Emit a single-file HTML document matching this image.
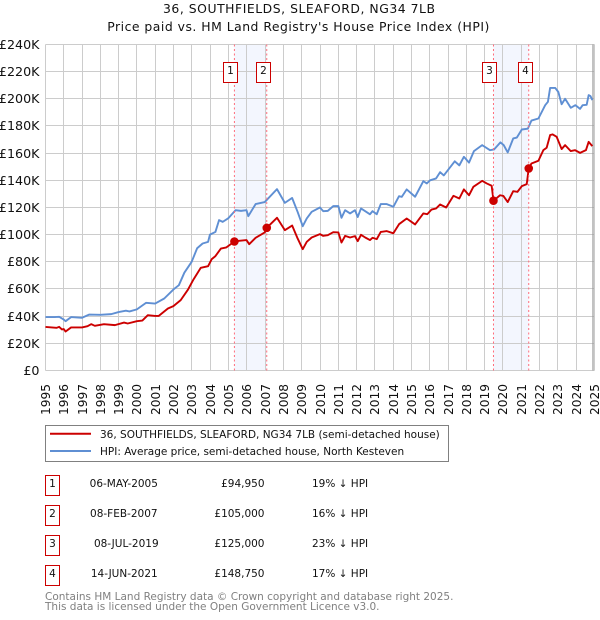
<!DOCTYPE html>
<html>
<head>
<meta charset="utf-8">
<title>36, SOUTHFIELDS, SLEAFORD, NG34 7LB</title>
<style>
html,body{margin:0;padding:0;background:#fff;}
svg{display:block;}
text{font-family:"DejaVu Sans",sans-serif;}
</style>
</head>
<body>
<svg id="chart" width="600" height="620" viewBox="0 0 600 620" xmlns="http://www.w3.org/2000/svg">
  <text x="163" y="13" font-size="12.4" textLength="272" lengthAdjust="spacing" fill="#111">36, SOUTHFIELDS, SLEAFORD, NG34 7LB</text>
  <text x="107.3" y="31" font-size="12.4" textLength="382" lengthAdjust="spacing" fill="#111">Price paid vs. HM Land Registry's House Price Index (HPI)</text>
  <g id="shade-layer"></g>
  <g id="grid-layer"></g>
  <g id="line-layer"></g>
  <g id="marker-layer"></g>
  <g id="label-layer"></g>

  <g>
    <rect x="45.5" y="425.5" width="403" height="36" fill="#fff" stroke="#808080" stroke-width="1"/>
    <line x1="50" x2="91" y1="433.8" y2="433.8" stroke="#cc0000" stroke-width="2"/>
    <text x="100" y="438" font-size="10.5" fill="#111">36, SOUTHFIELDS, SLEAFORD, NG34 7LB (semi-detached house)</text>
    <line x1="50" x2="91" y1="451" y2="451" stroke="#5f8fd3" stroke-width="2"/>
    <text x="100" y="455" font-size="10.5" fill="#111">HPI: Average price, semi-detached house, North Kesteven</text>
  </g>

  <g font-size="10.5" fill="#111">
    <g>
      <rect x="45.5" y="475.5" width="14" height="20" fill="#fff" stroke="#cc0000"/>
      <text x="52.5" y="487" text-anchor="middle">1</text>
      <text x="123.8" y="487" text-anchor="middle">06-MAY-2005</text>
      <text x="264.5" y="487" text-anchor="end">£94,950</text>
      <text x="312" y="487">19% ↓ HPI</text>
    </g>
    <g>
      <rect x="45.5" y="505.5" width="14" height="20" fill="#fff" stroke="#cc0000"/>
      <text x="52.5" y="517" text-anchor="middle">2</text>
      <text x="123.8" y="517" text-anchor="middle">08-FEB-2007</text>
      <text x="264.5" y="517" text-anchor="end">£105,000</text>
      <text x="312" y="517">16% ↓ HPI</text>
    </g>
    <g>
      <rect x="45.5" y="535.5" width="14" height="20" fill="#fff" stroke="#cc0000"/>
      <text x="52.5" y="547" text-anchor="middle">3</text>
      <text x="126.3" y="547" text-anchor="middle">08-JUL-2019</text>
      <text x="264.5" y="547" text-anchor="end">£125,000</text>
      <text x="312" y="547">23% ↓ HPI</text>
    </g>
    <g>
      <rect x="45.5" y="565.5" width="14" height="20" fill="#fff" stroke="#cc0000"/>
      <text x="52.5" y="577" text-anchor="middle">4</text>
      <text x="124.3" y="577" text-anchor="middle">14-JUN-2021</text>
      <text x="264.5" y="577" text-anchor="end">£148,750</text>
      <text x="312" y="577">17% ↓ HPI</text>
    </g>
  </g>

  <text x="45" y="600" font-size="10.5" fill="#808080">Contains HM Land Registry data © Crown copyright and database right 2025.</text>
  <text x="45" y="610" font-size="10.5" fill="#808080">This data is licensed under the Open Government Licence v3.0.</text>
</svg>
<script>
const yearTicks = [1995,1996,1997,1998,1999,2000,2001,2002,2003,2004,2005,2006,2007,2008,2009,2010,2011,2012,2013,2014,2015,2016,2017,2018,2019,2020,2021,2022,2023,2024,2025];
const priceTicks = [0,20,40,60,80,100,120,140,160,180,200,220,240];

const hpiDates = [1995,1995.5,1995.75,1996,1996.1,1996.4,1997,1997.4,1998,1998.6,1999,1999.4,1999.6,2000,2000.5,2001,2001.5,2002,2002.3,2002.6,2003,2003.3,2003.6,2003.9,2004,2004.3,2004.5,2004.7,2005,2005.4,2005.7,2006,2006.1,2006.5,2007,2007.67,2008.1,2008.5,2008.8,2009.08,2009.3,2009.57,2010.02,2010.2,2010.45,2010.75,2011.03,2011.2,2011.4,2011.67,2011.94,2012.09,2012.27,2012.5,2012.76,2012.9,2013.13,2013.35,2013.68,2014.04,2014.35,2014.5,2014.77,2015.23,2015.68,2015.87,2016.05,2016.38,2016.6,2016.8,2017.4,2017.65,2017.9,2018.18,2018.45,2018.9,2019.33,2019.55,2019.9,2020.08,2020.3,2020.6,2020.8,2021.07,2021.4,2021.6,2021.98,2022.35,2022.5,2022.62,2022.9,2023.07,2023.25,2023.44,2023.75,2024,2024.26,2024.4,2024.62,2024.73,2024.83,2024.93];
const hpiValues = [39.3,39.3,39.5,37.5,36.3,39.3,38.8,41.2,41,41.5,43,44,43.5,45,49.8,49.3,53,59.6,62.8,72,80,90,93.5,94.7,100,102,110.7,109.4,112,118,117.5,118,113.6,122.5,124,133.5,123.4,127,116.7,106.2,111.9,116.8,120,117.3,117.5,121,121,112.4,118,115.6,118,113,119.3,117.3,115,117.3,115,122.5,122.5,120.5,128.3,127.8,133.3,127.9,139.4,137.7,140,141.4,146,143.6,154,151,157.3,153,161.5,165.9,162.2,162.7,167.9,165.9,160.5,170.8,171.5,177.4,178,184,185.5,195.3,197.8,208,208,205,196,200,193.4,195.3,192.6,195.3,195.6,202.7,202,199];

const paidDates = [1995,1995.6,1995.75,1995.9,1996,1996.1,1996.4,1997,1997.3,1997.5,1997.7,1998.2,1998.8,1999.3,1999.5,2000,2000.3,2000.6,2001,2001.2,2001.7,2002,2002.4,2002.8,2003.1,2003.5,2003.9,2004.1,2004.3,2004.6,2004.9,2005.34,2005.6,2006,2006.15,2006.5,2007,2007.11,2007.67,2008.1,2008.5,2008.8,2009.08,2009.3,2009.57,2010.02,2010.2,2010.45,2010.75,2011.03,2011.2,2011.4,2011.67,2011.94,2012.09,2012.27,2012.5,2012.76,2012.9,2013.13,2013.35,2013.68,2014.04,2014.35,2014.77,2015.23,2015.68,2015.9,2016.13,2016.38,2016.6,2016.93,2017.33,2017.65,2017.9,2018.18,2018.42,2018.9,2019.15,2019.42,2019.52,2019.88,2020.06,2020.3,2020.6,2020.83,2021.07,2021.34,2021.45,2021.6,2021.98,2022.25,2022.43,2022.62,2022.76,2022.98,2023.25,2023.44,2023.75,2023.98,2024.26,2024.58,2024.73,2024.93];
const paidValues = [32.1,31.4,32.1,30.2,30.5,28.7,31.7,31.7,32.6,34.1,32.9,34.1,33.4,35.3,34.6,36.3,36.8,40.7,40.2,40.2,45.6,47.4,51.8,59.6,67,75.6,76.8,82,84.2,89.8,90.6,94.95,95.5,96,93,97.7,101.6,105,112.4,103.3,106.7,97.2,89.3,94.7,97.9,100.4,99.1,99.6,101.8,101.6,94.2,99.1,97.9,98.9,95.2,99.9,97.9,96,97.7,96.7,102,102.6,101,107.7,111.9,107.5,115.6,115.1,118.5,119.3,122.2,120,128.6,126.6,133.3,129,135.2,139.6,137.7,136,125,129,128.5,124,132,131.5,135.7,137.2,148.75,152.4,154.4,162.2,164,173.3,173.8,172,163,165.9,161.5,162.2,160.2,162.2,168.3,165.2];

const saleNumbers = ["1","2","3","4"];
const saleDates = [2005.34,2007.11,2019.52,2021.45];
const salePrices = [94.95,105,125,148.75];

const svgNS = "http://www.w3.org/2000/svg";
const X0 = 45.5, XSPAN = 549, Y0 = 370.5, YPERK = 27.17 / 20;
const T0 = Date.UTC(1995, 0, 1), T1 = Date.UTC(2025, 0, 1);
function tickX(year) { return X0 + (Date.UTC(year, 0, 1) - T0) / (T1 - T0) * XSPAN; }
function dataX(date) { return X0 + (date - 1995) * 18.27; }
function yScale(k) { return Y0 - k * YPERK; }
function make(tag, attrs, parent) {
  const el = document.createElementNS(svgNS, tag);
  for (const key in attrs) el.setAttribute(key, attrs[key]);
  parent.appendChild(el);
  return el;
}
const shadeLayer = document.getElementById("shade-layer");
const gridLayer = document.getElementById("grid-layer");
const lineLayer = document.getElementById("line-layer");
const markerLayer = document.getElementById("marker-layer");
const labelLayer = document.getElementById("label-layer");
const plotTop = yScale(240);

[[0,1],[2,3]].forEach(function (pair) {
  const band = make("rect", {x: dataX(saleDates[pair[0]]), y: plotTop, width: dataX(saleDates[pair[1]]) - dataX(saleDates[pair[0]]), height: Y0 - plotTop, fill: "#f3f6fe"}, shadeLayer);
  
  
});

yearTicks.forEach(function (year) {
  const px = Math.floor(tickX(year)) + 0.5;
  const line = make("line", {x1: px, x2: px, y1: plotTop, y2: Y0, stroke: "#cccccc", "stroke-width": 1}, gridLayer);
  
  
  const label = make("text", {transform: "translate(" + (px + 4.5) + ",415) rotate(-90)", "font-size": 12.2, fill: "#111"}, labelLayer);
  label.textContent = String(year);
  
  
});
priceTicks.forEach(function (k) {
  const py = Math.round(yScale(k) - 0.5) + 0.5;
  const line = make("line", {x1: X0, x2: X0 + XSPAN, y1: py, y2: py, stroke: "#cccccc", "stroke-width": 1}, gridLayer);
  
  
  const label = make("text", {x: 39.5, y: py + 4.5, "font-size": 12.7, "text-anchor": "end", fill: "#111"}, labelLayer);
  label.textContent = k === 0 ? "£0" : "£" + k + "K";
  
  
});
const endMarker = make("line", {x1: 593, x2: 593, y1: plotTop, y2: Y0, stroke: "#999999", "stroke-width": 1.2}, gridLayer);



saleDates.forEach(function (d) {
  const px = dataX(d);
  const rule = make("line", {x1: px, x2: px, y1: plotTop, y2: Y0, stroke: "#ff6b7a", "stroke-width": 1, "stroke-dasharray": "2 2.5"}, markerLayer);
  
  
});

function pathFrom(dates, values) {
  return dates.map(function (d, i) {
    return (i ? "L" : "M") + dataX(d).toFixed(2) + " " + yScale(values[i]).toFixed(2);
  }).join(" ");
}
const hpiLine = make("path", {d: pathFrom(hpiDates, hpiValues), fill: "none", stroke: "#5f8fd3", "stroke-width": 1.9, "stroke-linejoin": "round"}, lineLayer);


const paidLine = make("path", {d: pathFrom(paidDates, paidValues), fill: "none", stroke: "#cc0000", "stroke-width": 1.9, "stroke-linejoin": "round"}, lineLayer);



saleDates.forEach(function (d, i) {
  const dot = make("circle", {cx: dataX(d), cy: yScale(salePrices[i]), r: 4.3, fill: "#cc0000"}, markerLayer);
  
  
  const bx = Math.round(dataX(d) - 10) - 0.5;
  const box = make("rect", {x: bx, y: 62.5, width: 14, height: 20, fill: "#fff", stroke: "#cc0000", "stroke-width": 1}, markerLayer);
  
  
  const num = make("text", {x: bx + 7, y: 74, "font-size": 10.5, "text-anchor": "middle", fill: "#111"}, markerLayer);
  num.textContent = saleNumbers[i];
  
  
});
</script>
</body>
</html>
